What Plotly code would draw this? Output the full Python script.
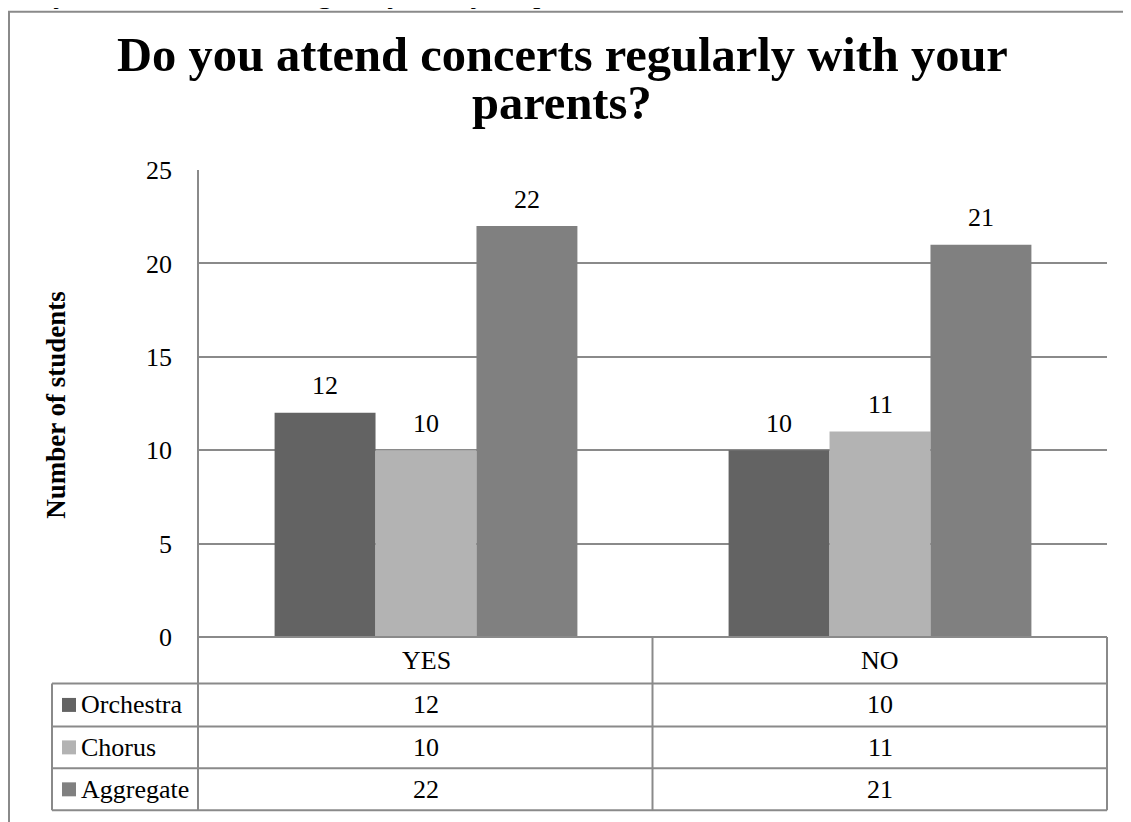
import plotly.graph_objects as go

# data
categories = ["YES", "NO"]
series_names = ["Orchestra", "Chorus", "Aggregate"]
orchestra = [12, 10]
chorus = [10, 11]
aggregate = [22, 21]
series_values = [orchestra, chorus, aggregate]
y_ticks = [0, 5, 10, 15, 20, 25]

title_lines = ["Do you attend concerts regularly with your", "parents?"]
page_text = "Do you attend concerts regularly with your parents?"
y_title = "Number of students"

colors = ["#636363", "#b3b3b3", "#808080"]
GRID = "#8a8a8a"
FONT = "Liberation Serif, Times New Roman, serif"

# the page body has an 8px margin, so the figure is drawn 8px in from the window corner;
# geometry below is given in window pixels and converted
OFF = 8
W, H = 1131 - OFF, 822 - OFF
L, R, T, B = 199, 1107, 170, 637.5     # plot area in window pixels
BARGAP = 0.333


def px_x(p):
    return (p - L) / (R - L)


def px_y(p):
    return (B - p) / (B - T)


fig = go.Figure()
for name, vals, col in zip(series_names, series_values, colors):
    fig.add_trace(go.Bar(x=categories, y=vals, name=name, marker=dict(color=col, line=dict(width=0)),
                         hoverinfo="x+y+name"))

# value labels above bars
cat_px = (R - L) / len(categories)
bar_px = cat_px * (1 - BARGAP) / len(series_names)
for i, vals in enumerate(series_values):
    for c, v in zip(categories, vals):
        fig.add_annotation(x=c, y=v, xref="x", yref="y", text=str(v), showarrow=False,
                           xshift=(i - 1) * bar_px, yshift=27, yanchor="middle", xanchor="center",
                           font=dict(family=FONT, size=26, color="black"))

shapes = []
line = dict(color=GRID, width=2)

# outer frame (runs off the page on the right and bottom; nothing can be drawn left/above OFF)
shapes.append(dict(type="rect", xref="paper", yref="paper", x0=px_x(OFF + 1), x1=px_x(1160),
                   y0=px_y(OFF + 3.5), y1=px_y(860), line=line, fillcolor="rgba(0,0,0,0)", layer="below"))

# data table
rows_y = [637.5, 684, 727, 769, 811]
col_x = [52, 198, 652.5, 1107]
for k, yy in enumerate(rows_y):
    x0 = col_x[1] if k == 0 else col_x[0]
    shapes.append(dict(type="line", xref="paper", yref="paper", x0=px_x(x0), x1=px_x(col_x[3]),
                       y0=px_y(yy), y1=px_y(yy), line=line))
for k, xx in enumerate(col_x):
    y0 = rows_y[1] if k == 0 else rows_y[0]
    shapes.append(dict(type="line", xref="paper", yref="paper", x0=px_x(xx), x1=px_x(xx),
                       y0=px_y(y0), y1=px_y(rows_y[-1]), line=line))
# y axis line
shapes.append(dict(type="line", xref="paper", yref="paper", x0=px_x(198), x1=px_x(198),
                   y0=0, y1=1, line=line))

tfont = dict(family=FONT, size=26, color="black")
for c in categories:
    fig.add_annotation(x=c, xref="x", y=px_y((rows_y[0] + rows_y[1]) / 2), yref="paper",
                       xanchor="center", yanchor="middle", text=c, showarrow=False, font=tfont)

for r, (name, vals, col) in enumerate(zip(series_names, series_values, colors)):
    yc = (rows_y[r + 1] + rows_y[r + 2]) / 2
    shapes.append(dict(type="rect", xref="paper", yref="paper", x0=px_x(62), x1=px_x(76),
                       y0=px_y(yc - 7), y1=px_y(yc + 7), fillcolor=col, line=dict(width=0)))
    fig.add_annotation(x=px_x(79), xref="paper", y=px_y(yc), yref="paper", xanchor="left",
                       yanchor="middle", text=name, showarrow=False, font=tfont)
    for c, v in zip(categories, vals):
        fig.add_annotation(x=c, xref="x", y=px_y(yc), yref="paper", xanchor="center",
                           yanchor="middle", text=str(v), showarrow=False, font=tfont)

# title, two lines
bold = dict(family=FONT, size=48.5, color="black")
for txt, yc in zip(title_lines, [54, 102]):
    fig.add_annotation(x=px_x(562), xref="paper", y=px_y(yc), yref="paper", text="<b>%s</b>" % txt,
                       showarrow=False, font=bold, xanchor="center", yanchor="middle")

# y axis title
fig.add_annotation(x=px_x(56), xref="paper", y=px_y(405), yref="paper", text="<b>%s</b>" % y_title,
                   textangle=-90, showarrow=False, xanchor="center", yanchor="middle",
                   font=dict(family=FONT, size=27, color="black"))

# line of page text cut off at the top (only the descenders show)
fig.add_annotation(x=px_x(OFF - 1), xref="paper", xanchor="left", y=px_y(OFF + 2.5), yref="paper",
                   yanchor="bottom", text=page_text, showarrow=False,
                   font=dict(family=FONT, size=30, color="black"))

fig.update_layout(
    width=W, height=H,
    margin=dict(l=L - OFF, r=W - (R - OFF), t=T - OFF, b=H - (B - OFF)),
    paper_bgcolor="white", plot_bgcolor="white",
    barmode="group", bargap=BARGAP, bargroupgap=0,
    showlegend=False,
    shapes=shapes,
    xaxis=dict(showticklabels=False, showgrid=False, zeroline=False, showline=False),
    yaxis=dict(range=[0, 25], tickvals=y_ticks, showgrid=True, gridcolor=GRID, gridwidth=2,
               zeroline=False, showline=False, ticks="", ticklabelstandoff=26,
               tickfont=dict(family=FONT, size=26, color="black")),
)

fig.write_html("out.html")
